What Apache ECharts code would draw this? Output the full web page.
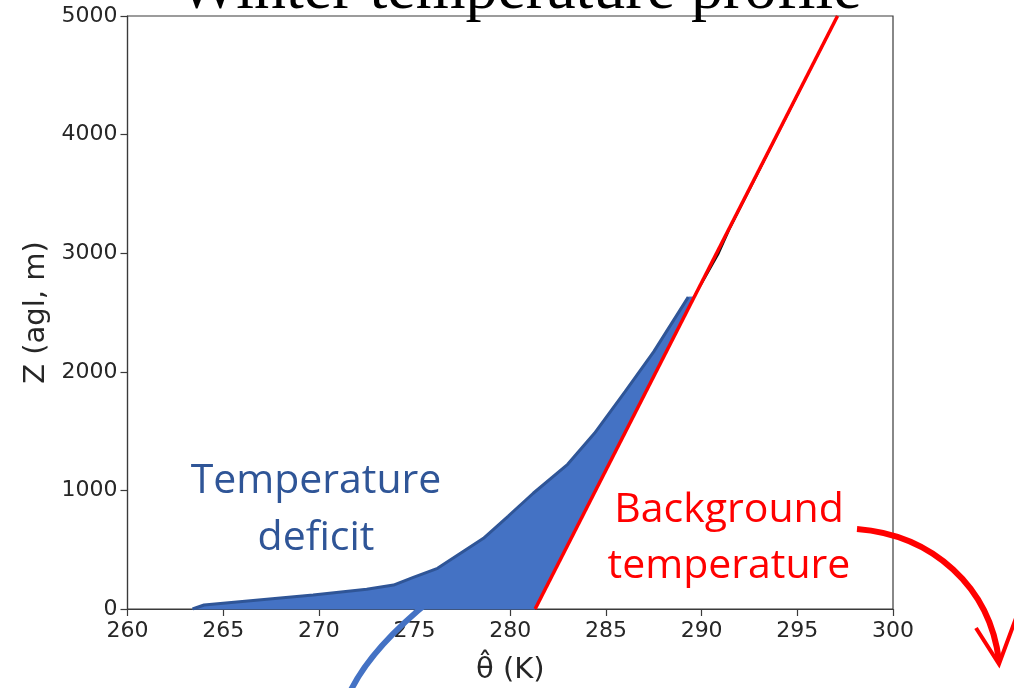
<!DOCTYPE html>
<html>
<head>
<meta charset="utf-8">
<title>Winter temperature profile</title>
<script src="https://cdn.jsdelivr.net/npm/echarts@6/dist/echarts.min.js"></script>
<style>
  html, body { margin: 0; padding: 0; background: #ffffff; }
  #chart { width: 1014px; height: 688px; }
</style>
</head>
<body>
<div id="chart"></div>
<script>
// Observed winter profile of potential temperature (K) against height (m agl)
const profileTheta = [263.4, 264.0, 269.7, 272.5, 273.9, 274.9, 276.2, 277.4, 278.6, 279.9, 281.2, 283.0, 284.4, 286.0, 287.5, 289.3];
const profileZ     = [0,     34,    118,   166,   202,   264,   343,   470,   596,   784,   976,   1220,  1481,  1832,  2170,  2630];

// Upper part of the observed profile, lying along the background line
const upperTheta = [289.6, 290.2, 290.9, 291.45, 297.1];
const upperZ     = [2630,  2800,  3000,  3200,   5000];

// Linear background temperature profile
const backgroundTheta = [281.3, 297.1];
const backgroundZ     = [0,     5000];

// Axis ranges and tick spacing
const thetaRange = [260, 300];
const thetaStep = 5;
const zRange = [0, 5000];
const zStep = 1000;

function pairs(xs, ys) { return xs.map((x, i) => [x, ys[i]]); }

// background theta at a given height
function backgroundAt(z) {
  const t = (z - backgroundZ[0]) / (backgroundZ[1] - backgroundZ[0]);
  return backgroundTheta[0] + t * (backgroundTheta[1] - backgroundTheta[0]);
}

const profile = pairs(profileTheta, profileZ);
const upper = pairs(upperTheta, upperZ);
const background = pairs(backgroundTheta, backgroundZ);

// region between the observed profile and the background line
const topZ = profileZ[profileZ.length - 1];
const deficitPolygon = profile.concat([[backgroundAt(topZ), topZ], [backgroundTheta[0], backgroundZ[0]]]);

const chart = echarts.init(document.getElementById('chart'), null, { renderer: 'canvas' });

const tickFont = { fontFamily: 'DejaVu Sans', fontSize: 22, color: '#262626', formatter: v => String(v) };
const nameFont = { fontFamily: 'DejaVu Sans', fontSize: 29, color: '#262626' };

chart.setOption({
  backgroundColor: '#ffffff',
  animation: false,
  grid: {
    left: 127.5, right: 121, top: 16, bottom: 79,
    containLabel: false, outerBoundsMode: 'none',
    show: true, borderColor: '#3a3a3a', borderWidth: 1.2, backgroundColor: 'transparent'
  },
  xAxis: {
    type: 'value', min: thetaRange[0], max: thetaRange[1], interval: thetaStep,
    name: 'θ\u0302 (K)', nameLocation: 'middle', nameGap: 47,
    nameTextStyle: nameFont,
    axisLine: { show: true, onZero: false, lineStyle: { color: '#3a3a3a', width: 1.2 } },
    axisTick: { show: true, inside: false, length: 7, lineStyle: { color: '#3a3a3a', width: 1.2 } },
    axisLabel: Object.assign({ margin: 11 }, tickFont),
    splitLine: { show: false }
  },
  yAxis: {
    type: 'value', min: zRange[0], max: zRange[1], interval: zStep,
    name: 'Z (agl, m)', nameLocation: 'middle', nameGap: 71, nameRotate: 90,
    nameTextStyle: nameFont,
    axisLine: { show: true, onZero: false, lineStyle: { color: '#3a3a3a', width: 1.2 } },
    axisTick: { show: true, inside: false, length: 7, lineStyle: { color: '#3a3a3a', width: 1.2 } },
    axisLabel: Object.assign({ margin: 10 }, tickFont),
    splitLine: { show: false }
  },
  series: [
    {
      // shaded temperature deficit
      type: 'custom',
      z: 1,
      data: [[0]],
      renderItem: function (params, api) {
        const pts = deficitPolygon.map(p => api.coord(p));
        return {
          type: 'polygon',
          shape: { points: pts },
          style: { fill: '#4472C4', stroke: '#4472C4', lineWidth: 1 }
        };
      },
      silent: true
    },
    {
      // observed profile edge
      type: 'line', z: 2, data: profile, showSymbol: false, symbol: 'none',
      lineStyle: { color: '#2F5597', width: 3 }, silent: true
    },
    {
      type: 'line', z: 2, data: upper, showSymbol: false, symbol: 'none',
      lineStyle: { color: '#111111', width: 2 }, silent: true
    },
    {
      // background temperature
      type: 'line', z: 3, data: background, showSymbol: false, symbol: 'none',
      lineStyle: { color: '#FF0000', width: 3.5 }, silent: true
    }
  ],
  graphic: [
    {
      type: 'text', z: 100, x: 520, y: -41,
      style: {
        text: 'Winter temperature profile',
        font: '64px "Liberation Serif", "Times New Roman", serif',
        fill: '#000000', textAlign: 'center'
      }
    },
    {
      type: 'text', z: 50, x: 316, y: 510,
      style: {
        text: 'Temperature\ndeficit', font: '41px "Open Sans", "Noto Sans", sans-serif',
        fill: '#2F5597', textAlign: 'center', textVerticalAlign: 'middle', lineHeight: 57
      }
    },
    {
      type: 'text', z: 50, x: 729, y: 538,
      style: {
        text: 'Background\ntemperature', font: '41px "Open Sans", "Noto Sans", sans-serif',
        fill: '#FF0000', textAlign: 'center', textVerticalAlign: 'middle', lineHeight: 56
      }
    },
    {
      // blue pointer leaving the shaded region
      type: 'bezierCurve', z: 50,
      shape: { x1: 432, y1: 599, cpx1: 371, cpy1: 648, x2: 350, y2: 692 },
      style: { stroke: '#4472C4', lineWidth: 6, fill: null }
    },
    {
      // red pointer off the background label
      type: 'bezierCurve', z: 50,
      shape: { x1: 857, y1: 529, cpx1: 933, cpy1: 535, cpx2: 990, cpy2: 587, x2: 999, y2: 661 },
      style: { stroke: '#FF0000', lineWidth: 6, fill: null }
    },
    {
      type: 'polyline', z: 50,
      shape: { points: [[976, 628], [999, 664], [1016, 618]] },
      style: { stroke: '#FF0000', lineWidth: 4, fill: null }
    }
  ]
});
</script>
</body>
</html>
